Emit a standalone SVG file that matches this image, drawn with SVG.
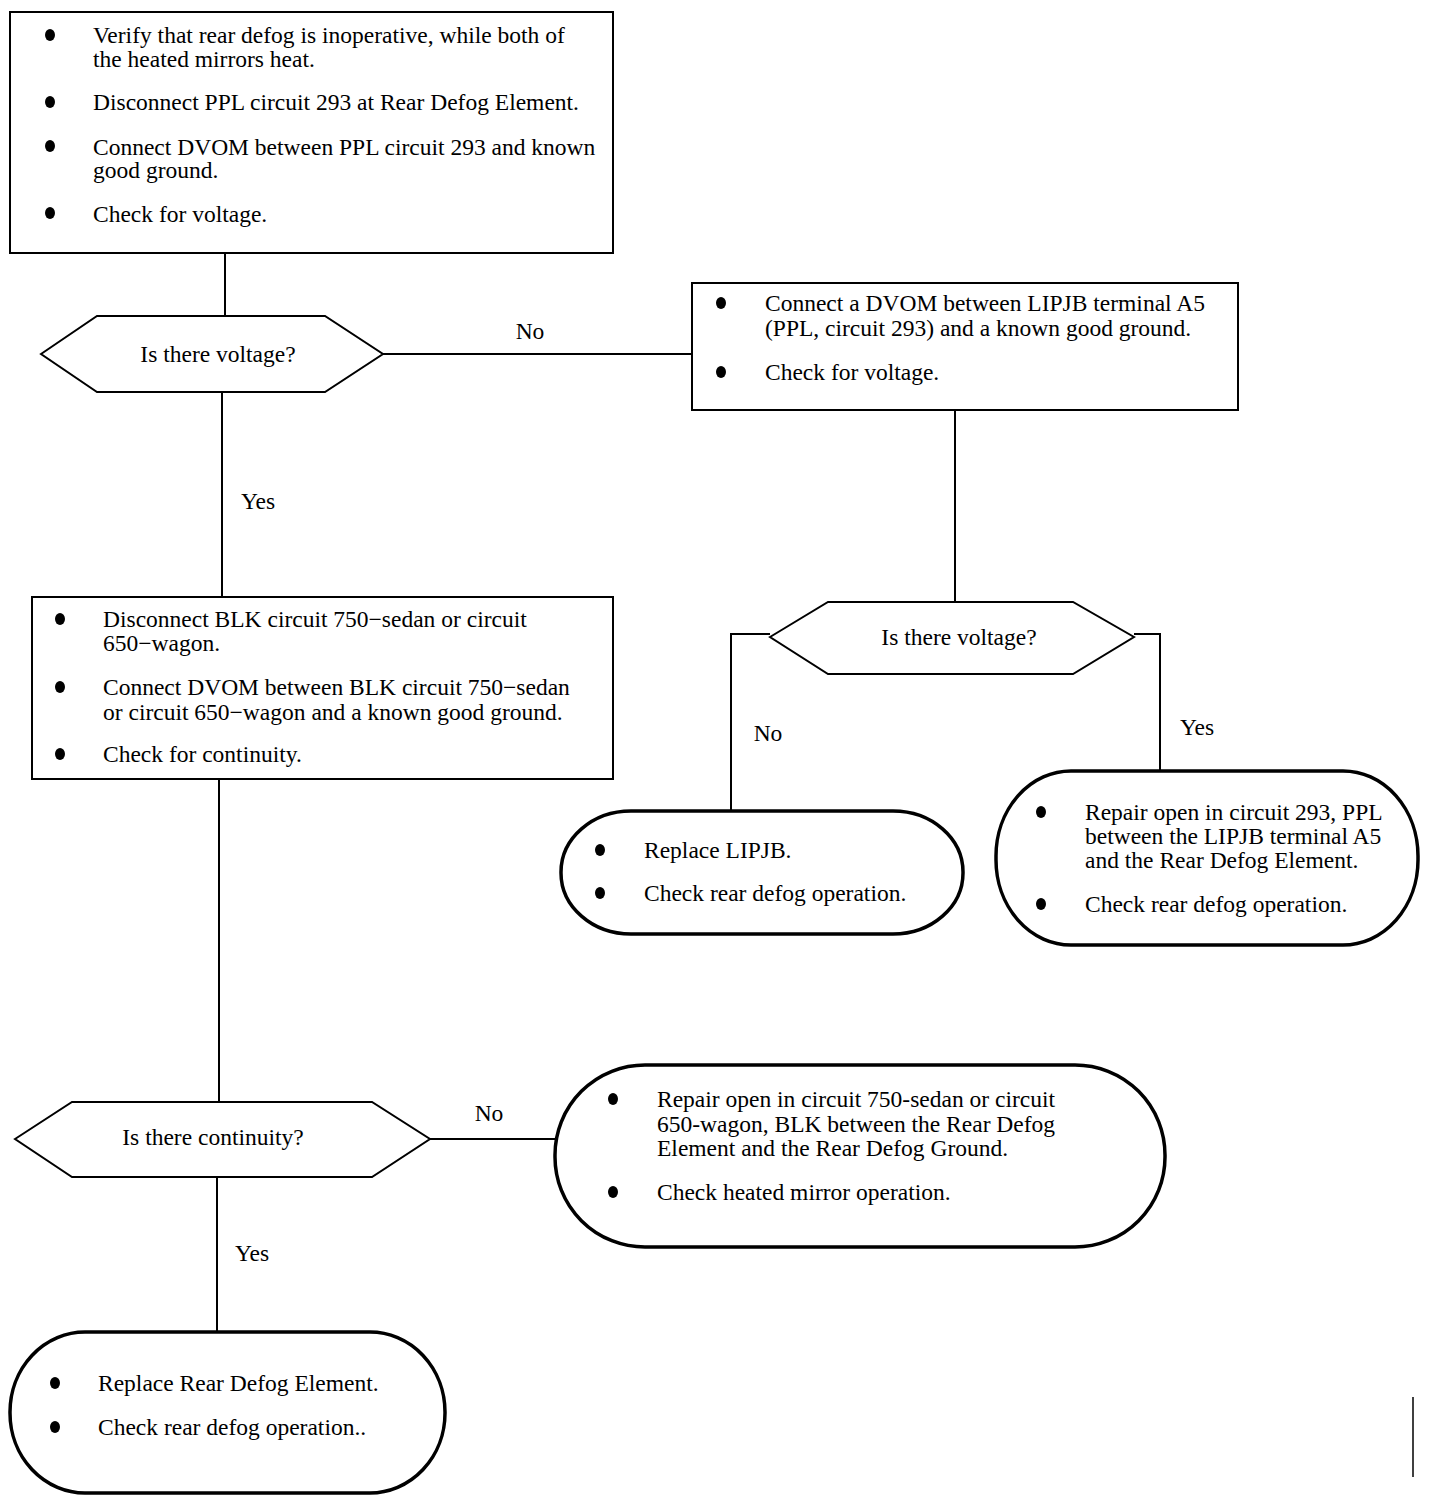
<svg xmlns="http://www.w3.org/2000/svg" width="1440" height="1508" viewBox="0 0 1440 1508">
<style>
text{font-family:"Liberation Serif","Times New Roman",serif;font-size:23.5px;fill:#000}
.c{text-anchor:middle}
.box{fill:#fff;stroke:#000;stroke-width:2}
.term{fill:#fff;stroke:#000;stroke-width:3.5}
.dec{fill:#fff;stroke:#000;stroke-width:2}
.ln{fill:none;stroke:#000;stroke-width:2}
.b{fill:#000}
</style>
<rect width="1440" height="1508" fill="#fff"/>
<g id="connectors">
<line class="ln" x1="225" y1="253" x2="225" y2="316"/>
<line class="ln" x1="383" y1="354" x2="692" y2="354"/>
<line class="ln" x1="222" y1="392" x2="222" y2="597"/>
<line class="ln" x1="955" y1="410" x2="955" y2="602"/>
<polyline class="ln" points="770,634 731,634 731,811"/>
<polyline class="ln" points="1134,634 1160,634 1160,771"/>
<line class="ln" x1="219" y1="779" x2="219" y2="1102"/>
<line class="ln" x1="430" y1="1139" x2="555" y2="1139"/>
<line class="ln" x1="217" y1="1177" x2="217" y2="1332"/>
<text x="530" y="339" class="c">No</text>
<text x="258" y="509" class="c">Yes</text>
<text x="768" y="741" class="c">No</text>
<text x="1197" y="735" class="c">Yes</text>
<text x="489" y="1121" class="c">No</text>
<text x="252" y="1261" class="c">Yes</text>
</g>
<g id="start">
<rect class="box" x="10" y="12" width="603" height="241"/>
<ellipse class="b" cx="50" cy="35" rx="5" ry="6"/>
<text x="93" y="43">Verify that rear defog is inoperative, while both of</text>
<text x="93" y="67">the heated mirrors heat.</text>
<ellipse class="b" cx="50" cy="102" rx="5" ry="6"/>
<text x="93" y="110">Disconnect PPL circuit 293 at Rear Defog Element.</text>
<ellipse class="b" cx="50" cy="146" rx="5" ry="6"/>
<text x="93" y="155">Connect DVOM between PPL circuit 293 and known</text>
<text x="93" y="178">good ground.</text>
<ellipse class="b" cx="50" cy="213" rx="5" ry="6"/>
<text x="93" y="222">Check for voltage.</text>
</g>
<g id="decision1">
<polygon class="dec" points="41,354 97,316 325,316 383,354 325,392 97,392"/>
<text x="218" y="362" class="c">Is there voltage?</text>
</g>
<g id="check-lipjb">
<rect class="box" x="692" y="283" width="546" height="127"/>
<ellipse class="b" cx="721" cy="303" rx="5" ry="6"/>
<text x="765" y="311">Connect a DVOM between LIPJB terminal A5</text>
<text x="765" y="336">(PPL, circuit 293) and a known good ground.</text>
<ellipse class="b" cx="721" cy="372" rx="5" ry="6"/>
<text x="765" y="380">Check for voltage.</text>
</g>
<g id="decision2">
<polygon class="dec" points="770,637 828,602 1073,602 1134,637 1073,674 828,674"/>
<text x="959" y="645" class="c">Is there voltage?</text>
</g>
<g id="replace-lipjb">
<rect class="term" x="561" y="811" width="402" height="123" rx="70" ry="61"/>
<ellipse class="b" cx="600" cy="850" rx="5" ry="6"/>
<text x="644" y="858">Replace LIPJB.</text>
<ellipse class="b" cx="600" cy="893" rx="5" ry="6"/>
<text x="644" y="901">Check rear defog operation.</text>
</g>
<g id="repair-293">
<rect class="term" x="996" y="771" width="422" height="174" rx="75" ry="85"/>
<ellipse class="b" cx="1041" cy="812" rx="5" ry="6"/>
<text x="1085" y="820">Repair open in circuit 293, PPL</text>
<text x="1085" y="844">between the LIPJB terminal A5</text>
<text x="1085" y="868">and the Rear Defog Element.</text>
<ellipse class="b" cx="1041" cy="904" rx="5" ry="6"/>
<text x="1085" y="912">Check rear defog operation.</text>
</g>
<g id="check-blk">
<rect class="box" x="32" y="597" width="581" height="182"/>
<ellipse class="b" cx="60" cy="619" rx="5" ry="6"/>
<text x="103" y="627">Disconnect BLK circuit 750−sedan or circuit</text>
<text x="103" y="651">650−wagon.</text>
<ellipse class="b" cx="60" cy="687" rx="5" ry="6"/>
<text x="103" y="695">Connect DVOM between BLK circuit 750−sedan</text>
<text x="103" y="720">or circuit 650−wagon and a known good ground.</text>
<ellipse class="b" cx="60" cy="754" rx="5" ry="6"/>
<text x="103" y="762">Check for continuity.</text>
</g>
<g id="decision3">
<polygon class="dec" points="15,1139 72,1102 372,1102 430,1139 372,1177 72,1177"/>
<text x="213" y="1145" class="c">Is there continuity?</text>
</g>
<g id="repair-750">
<rect class="term" x="555" y="1065" width="610" height="182" rx="90" ry="90"/>
<ellipse class="b" cx="613" cy="1099" rx="5" ry="6"/>
<text x="657" y="1107">Repair open in circuit 750-sedan or circuit</text>
<text x="657" y="1132">650-wagon, BLK between the Rear Defog</text>
<text x="657" y="1156">Element and the Rear Defog Ground.</text>
<ellipse class="b" cx="613" cy="1192" rx="5" ry="6"/>
<text x="657" y="1200">Check heated mirror operation.</text>
</g>
<g id="replace-element">
<rect class="term" x="10" y="1332" width="435" height="161" rx="75" ry="80"/>
<ellipse class="b" cx="55" cy="1383" rx="5" ry="6"/>
<text x="98" y="1391">Replace Rear Defog Element.</text>
<ellipse class="b" cx="55" cy="1427" rx="5" ry="6"/>
<text x="98" y="1435">Check rear defog operation..</text>
</g>
<line x1="1413" y1="1397" x2="1413" y2="1477" stroke="#000" stroke-width="1.5"/>
</svg>
